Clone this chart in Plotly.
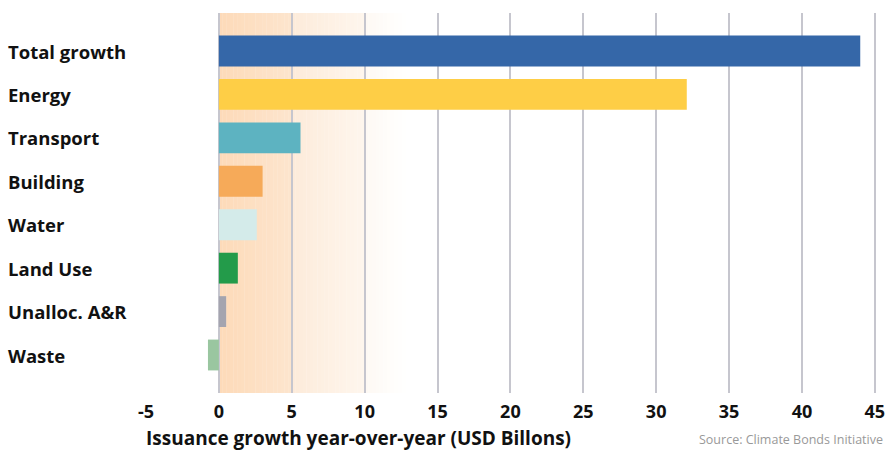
import plotly.graph_objects as go

# Year-over-year change in green bond issuance by sector (USD billions)
categories = ["Total growth", "Energy", "Transport", "Building", "Water",
              "Land Use", "Unalloc. A&R", "Waste"]
values = [44.0, 32.1, 5.6, 3.0, 2.6, 1.3, 0.5, -0.75]
colors = ["#3567A8", "#FECE46", "#5DB3C1", "#F6AA59", "#D4EBEA",
          "#239B4A", "#A4A4AF", "#9AC6A0"]
tick_vals = [-5, 0, 5, 10, 15, 20, 25, 30, 35, 40, 45]

FONT = "Open Sans"
INK = "#111111"

fig = go.Figure(go.Bar(
    x=values,
    y=categories,
    orientation="h",
    marker=dict(color=colors, line=dict(width=0)),
    width=0.71,
    hoverinfo="x+y",
))

# Soft peach wash behind the low end of the scale, built from thin strips
def lerp(a, b, t):
    return tuple(round(a[i] + (b[i] - a[i]) * t) for i in range(3))

segments = [
    (0.0, 5.0, (253, 218, 184), (253, 229, 206)),
    (5.0, 10.0, (253, 235, 218), (254, 246, 237)),
    (10.0, 12.8, (254, 249, 243), (255, 255, 255)),
]
shapes = []
step = 0.25
for x0, x1, c0, c1 in segments:
    n = max(1, int(round((x1 - x0) / step)))
    w = (x1 - x0) / n
    for i in range(n):
        a = x0 + i * w
        t = (i + 0.5) / n
        r, g, b = lerp(c0, c1, t)
        shapes.append(dict(
            type="rect", xref="x", yref="paper",
            x0=a, x1=a + w + 0.02, y0=0, y1=1,
            fillcolor=f"rgb({r},{g},{b})", line=dict(width=0),
            layer="below",
        ))

# Left-aligned category labels
annotations = [
    dict(x=0, xref="paper", y=cat, yref="y", text=f"<b>{cat}</b>",
         showarrow=False, xanchor="left", yanchor="middle",
         xshift=-140, font=dict(family=FONT, size=18.5, color=INK))
    for cat in categories
]
# Axis title, aligned with the left edge of the plot
annotations.append(dict(
    x=0, xref="paper", y=0, yref="paper", xanchor="left", yanchor="middle",
    yshift=-45, xshift=-2,
    text="<b>Issuance growth year-over-year (USD Billons)</b>", showarrow=False,
    font=dict(family=FONT, size=19, color=INK),
))
annotations.append(dict(
    x=1, xref="paper", y=0, yref="paper", yanchor="bottom", xanchor="right",
    yshift=-57, xshift=8,
    text="Source: Climate Bonds Initiative", showarrow=False,
    font=dict(family=FONT, size=12.5, color="#999999"),
))

fig.update_layout(
    width=885, height=450,
    margin=dict(l=146, r=8, t=13, b=57),
    paper_bgcolor="white", plot_bgcolor="white",
    showlegend=False,
    shapes=shapes,
    annotations=annotations,
    xaxis=dict(
        range=[-5, 45.15],
        tickvals=tick_vals,
        ticktext=[f"<b>{v}</b>" for v in tick_vals],
        tickfont=dict(family=FONT, size=18, color=INK),
        ticklabeloverflow="allow",
        showgrid=True, gridcolor="#C6C6CE", gridwidth=2,
        zeroline=False, showline=False,
        ticks="", ticklabelstandoff=6,
        automargin=False,
        fixedrange=True,
    ),
    yaxis=dict(
        categoryorder="array", categoryarray=categories,
        range=[7.875, -0.875],
        showticklabels=False, showgrid=False, zeroline=False,
        automargin=False,
        fixedrange=True,
    ),
)

fig.write_html("out.html")
